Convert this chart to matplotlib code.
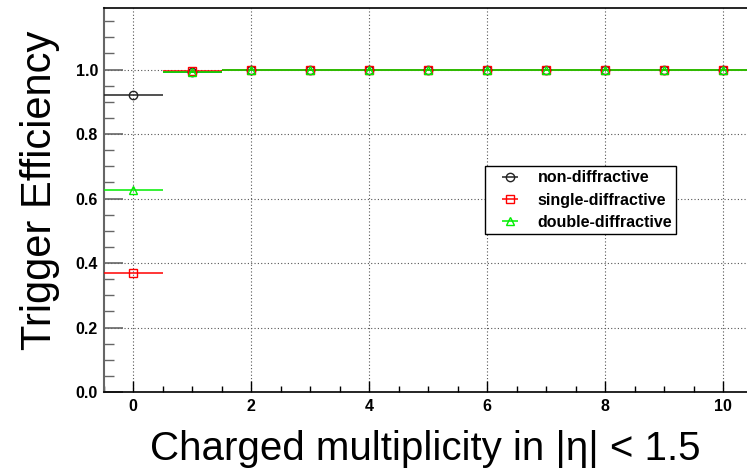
import matplotlib
matplotlib.use("Agg")
import matplotlib.pyplot as plt
from matplotlib.ticker import MultipleLocator
import numpy as np

# Trigger efficiency vs. charged multiplicity, per process type
multiplicity = [0, 1, 2, 3, 4, 5, 6, 7, 8, 9, 10]
eff_non_diffractive = [0.920, 0.9935, 1.0, 1.0, 1.0, 1.0, 1.0, 1.0, 1.0, 1.0, 1.0]
eff_single_diffractive = [0.370, 0.994, 1.0, 1.0, 1.0, 1.0, 1.0, 1.0, 1.0, 1.0, 1.0]
eff_double_diffractive = [0.625, 0.991, 1.0, 1.0, 1.0, 1.0, 1.0, 1.0, 1.0, 1.0, 1.0]
series_labels = ["non-diffractive", "single-diffractive", "double-diffractive"]
x_ticks = [0, 2, 4, 6, 8, 10]
y_ticks = [0.0, 0.2, 0.4, 0.6, 0.8, 1.0]

plt.rcParams["font.family"] = ["Liberation Sans", "DejaVu Sans"]

W, H = 747, 468
fig = plt.figure(figsize=(W / 100, H / 100), dpi=100)
left_px, right_px, top_px, bottom_px = 103.5, 752.5, 8.3, 392.0
ax = fig.add_axes([left_px / W, 1 - bottom_px / H,
                   (right_px - left_px) / W, (bottom_px - top_px) / H])

ax.set_xlim(-0.5, 10.5)
ax.set_ylim(0.0, 1.19)

styles = [
    (eff_non_diffractive, "#222222", "o"),
    (eff_single_diffractive, "#ff0000", "s"),
    (eff_double_diffractive, "#00ee00", "^"),
]
x = np.array(multiplicity, dtype=float)
for (vals, col, mk), lab in zip(styles, series_labels):
    ax.errorbar(x, vals, xerr=0.5, fmt=mk, color=col, ecolor=col,
                elinewidth=1.1, capsize=0, markersize=6,
                markerfacecolor="none", markeredgecolor=col,
                markeredgewidth=1.0, label=lab, zorder=3)

# grid and ticks
ax.set_xticks(x_ticks)
ax.set_yticks(y_ticks)
ax.xaxis.set_minor_locator(MultipleLocator(0.5))
ax.yaxis.set_minor_locator(MultipleLocator(0.05))
ax.grid(True, which="major", color="#555555", linestyle=(0, (1, 2)),
        linewidth=0.8, zorder=0)
ax.set_axisbelow(True)

ax.tick_params(axis="y", which="major", direction="in", length=14, width=1.2,
               color="#666666", pad=4, labelsize=11.5)
ax.tick_params(axis="y", which="minor", direction="in", length=7, width=1.0,
               color="#666666")
ax.tick_params(axis="x", which="major", direction="in", length=8, width=1.0,
               color="black", pad=5, labelsize=11.5)
ax.tick_params(axis="x", which="minor", direction="in", length=4, width=1.0,
               color="black")
for lbl in ax.get_xticklabels() + ax.get_yticklabels():
    lbl.set_fontweight("bold")
ax.set_yticklabels([f"{v:.1f}" for v in y_ticks])

ax.spines["left"].set_color("#666666")
ax.spines["left"].set_linewidth(1.5)
ax.spines["bottom"].set_linewidth(1.2)
ax.spines["top"].set_linewidth(1.2)
ax.spines["right"].set_linewidth(1.2)

# axis titles
fig.text(425 / W, 1 - 460 / H, "Charged multiplicity in |\u03b7| < 1.5",
         ha="center", va="baseline", fontsize=29)
fig.text(40 / W, 1 - 190 / H, "Trigger Efficiency", rotation=90,
         ha="center", va="center", fontsize=30)

leg = ax.legend(loc="upper left",
                bbox_to_anchor=((485 - left_px) / (right_px - left_px),
                                (bottom_px - 166) / (bottom_px - top_px)),
                borderaxespad=0, frameon=True, fancybox=False,
                edgecolor="black", framealpha=1.0,
                prop={"weight": "bold", "size": 11.5},
                handlelength=2.6, handletextpad=0.4, labelspacing=0.45,
                borderpad=0.28)
leg.get_frame().set_linewidth(1.0)

fig.savefig("out.png", dpi=100)
